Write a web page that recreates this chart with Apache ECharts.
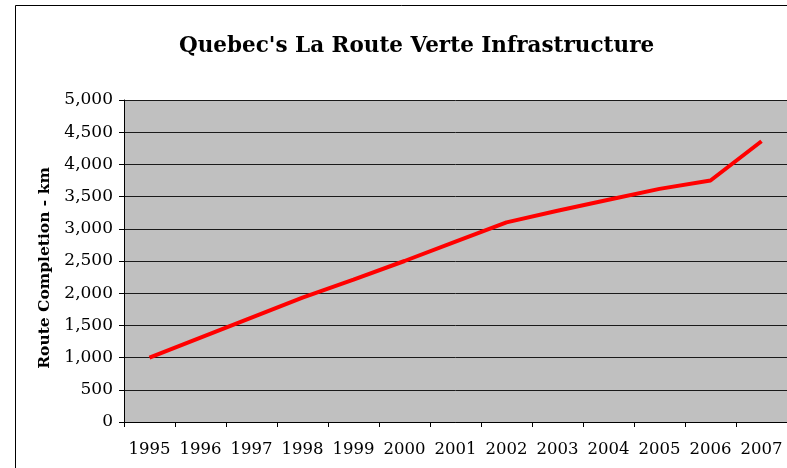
<!DOCTYPE html>
<html>
<head>
<meta charset="utf-8">
<script src="https://cdn.jsdelivr.net/npm/echarts@6/dist/echarts.min.js"></script>
<style>
  html, body { margin: 0; padding: 0; background: #fff; }
  #chart { width: 787px; height: 468px; }
</style>
</head>
<body>
<div id="chart"></div>
<script>
const years = ['1995', '1996', '1997', '1998', '1999', '2000', '2001', '2002', '2003', '2004', '2005', '2006', '2007']
const completionKm = [1000, 1310, 1620, 1930, 2210, 2500, 2800, 3100, 3280, 3450, 3620, 3750, 4360]

const serif = '"DejaVu Serif", "Liberation Serif", serif'

const chartInstance = echarts.init(document.getElementById('chart'))
const option = {
  backgroundColor: '#fff',
  animation: false,
  title: {
    text: "Quebec's La Route Verte Infrastructure",
    left: 174,
    top: 30,
    textStyle: { fontFamily: serif, fontSize: 21.5, fontWeight: 'bold', color: '#000' },
  },
  // outer frame of the chart area
  graphic: [
    {
      type: 'rect',
      shape: { x: 15.5, y: 5.5, width: 800, height: 500 },
      style: { fill: 'none', stroke: '#000', lineWidth: 1 },
      silent: true,
    },
  ],
  grid: {
    left: 124,
    top: 100,
    right: -4,
    bottom: 46,
    show: true,
    backgroundColor: '#c0c0c0',
    borderWidth: 0,
  },
  xAxis: {
    type: 'category',
    data: years,
    boundaryGap: true,
    axisLine: { lineStyle: { color: '#000', width: 1 } },
    axisTick: { show: true, length: 5, inside: false, lineStyle: { color: '#000' } },
    axisLabel: { fontFamily: serif, fontSize: 16.5, color: '#000', margin: 19, interval: 0 },
    splitLine: { show: false },
  },
  yAxis: {
    type: 'value',
    min: 0,
    max: 5000,
    interval: 500,
    name: 'Route Completion - km',
    nameLocation: 'middle',
    nameGap: 70,
    nameTextStyle: { fontFamily: serif, fontSize: 15.5, fontWeight: 'bold', color: '#000', padding: [0, 14, 0, 0] },
    axisLine: { show: true, lineStyle: { color: '#000', width: 1 } },
    axisTick: { show: true, length: 5, lineStyle: { color: '#000' } },
    axisLabel: {
      fontFamily: serif,
      fontSize: 17,
      color: '#000',
      margin: 11,
      formatter: (v) => v.toLocaleString('en-US'),
    },
    splitLine: { show: true, lineStyle: { color: '#1a1a1a', width: 1 } },
  },
  series: [
    {
      name: 'Route Completion',
      type: 'line',
      data: completionKm,
      symbol: 'none',
      lineStyle: { color: '#ff0000', width: 4 },
      itemStyle: { color: '#ff0000' },
    },
  ],
}
chartInstance.setOption(option)
</script>
</body>
</html>
